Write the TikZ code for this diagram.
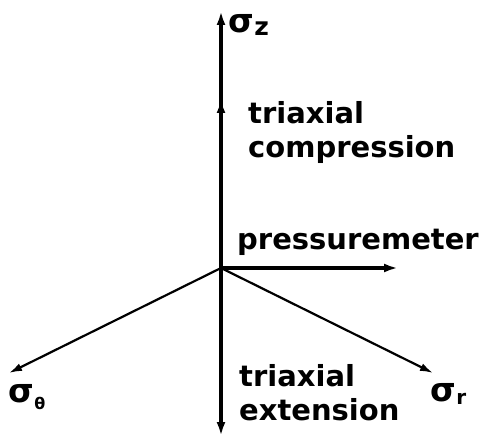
\documentclass[tikz,border=0pt]{standalone}
\usepackage{fontspec}
\setmainfont{DejaVu Sans}
\usetikzlibrary{arrows.meta}

\newcommand{\sigsub}[3]{σ\kern0.5pt\raisebox{-#2pt}{\fontsize{#3}{#3}\selectfont #1}}

\begin{document}
\begin{tikzpicture}[x=1pt, y=1pt,
    axis/.style={line width=3.4pt, -{Latex[length=14pt, width=9pt]}},
    slant axis/.style={line width=2.2pt, -{Latex[length=13pt, width=8pt]}},
    lbl/.style={anchor=north west, inner sep=0pt, align=left,
                font=\bfseries\fontsize{29}{34}\selectfont},
    sym/.style={anchor=base west, inner sep=0pt,
                font=\bfseries\fontsize{33}{34}\selectfont}]
  \useasboundingbox (0,0) rectangle (486,444);

  % axes from the common origin
  \coordinate (O)    at (221,176);
  \coordinate (ztop) at (221,433);
  \coordinate (zmid) at (221,345);
  \coordinate (zbot) at (221,8);
  \coordinate (pm)   at (398,176);
  \coordinate (th)   at (9,71);
  \coordinate (rr)   at (433,71);

  \draw[axis] (O) -- (ztop);
  \draw[axis] (O) -- (zmid);
  \draw[axis] (O) -- (zbot);
  \draw[axis] (O) -- (pm);
  \draw[slant axis] (O) -- (th);
  \draw[slant axis] (O) -- (rr);

  % labels
  \node[sym] (sz) at (228,411) {\sigsub{z}{3}{25}};
  \node[sym] (st) at (8,42)    {\sigsub{θ}{7}{16}};
  \node[sym] (sr) at (430,43)  {\sigsub{r}{3}{20}};

  \node[lbl] (comp) at (248,343) {triaxial\\compression};
  \node[lbl] (pres) at (237,215) {pressuremeter};
  \node[lbl] (ext)  at (239,80)  {triaxial\\extension};
\end{tikzpicture}
\end{document}
